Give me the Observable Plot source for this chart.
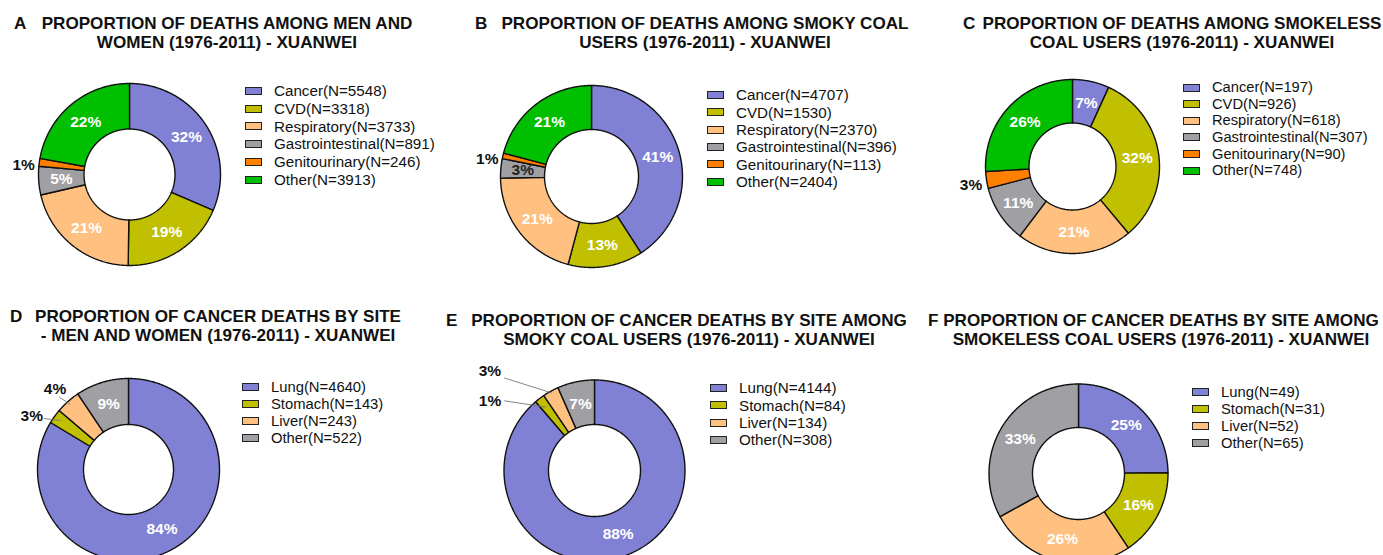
<!DOCTYPE html>
<html>
<head>
<meta charset="utf-8">
<script src="https://cdn.jsdelivr.net/npm/d3@7"></script>
<script src="https://cdn.jsdelivr.net/npm/@observablehq/plot@0.6"></script>
<style>
  html, body { margin: 0; padding: 0; background: #fff; }
  #fig { position: relative; width: 1383px; height: 555px; overflow: hidden; font-family: "Liberation Sans", Arial, Helvetica, sans-serif; color: #111; }
  .t { position: absolute; font-weight: bold; font-size: 17.1px; white-space: nowrap; line-height: 1; }
  .tl { text-align: center; width: 600px; }
  .leg { position: absolute; font-size: 15px; line-height: 1; }
  .row { position: absolute; white-space: nowrap; display: flex; align-items: center; }
  .sw { width: 15px; height: 6px; border: 1.5px solid #222; margin-right: 12px; }
  .panel svg { position: absolute; overflow: visible; }
</style>
</head>
<body>
<div id="fig"></div>
<script>
// ---------- data ----------
const causeCategories = ["Cancer", "CVD", "Respiratory", "Gastrointestinal", "Genitourinary", "Other"];
const causeColors = ["#8080d4", "#c0c000", "#ffc080", "#a0a0a4", "#ff8000", "#00bf00"];
const siteCategories = ["Lung", "Stomach", "Liver", "Other"];
const siteColors = ["#8080d4", "#c0c000", "#ffc080", "#a0a0a4"];

const deathsAll = [5548, 3318, 3733, 891, 246, 3913];
const pctAll = ["32%", "19%", "21%", "5%", "1%", "22%"];
const deathsSmoky = [4707, 1530, 2370, 396, 113, 2404];
const pctSmoky = ["41%", "13%", "21%", "3%", "1%", "21%"];
const deathsSmokeless = [197, 926, 618, 307, 90, 748];
const pctSmokeless = ["7%", "32%", "21%", "11%", "3%", "26%"];

const cancerAll = [4640, 143, 243, 522];
const pctCancerAll = ["84%", "3%", "4%", "9%"];
const cancerSmoky = [4144, 84, 134, 308];
const pctCancerSmoky = ["88%", "1%", "3%", "7%"];
const cancerSmokeless = [49, 31, 52, 65];
const pctCancerSmokeless = ["25%", "16%", "26%", "33%"];

const panelLetters = ["A", "B", "C", "D", "E", "F"];
const titleLines = [
  ["PROPORTION OF DEATHS AMONG MEN AND", "WOMEN (1976-2011) - XUANWEI"],
  ["PROPORTION OF DEATHS AMONG SMOKY COAL", "USERS (1976-2011) - XUANWEI"],
  ["PROPORTION OF DEATHS AMONG SMOKELESS", "COAL USERS (1976-2011) - XUANWEI"],
  ["PROPORTION OF CANCER DEATHS BY SITE", "- MEN AND WOMEN (1976-2011) - XUANWEI"],
  ["PROPORTION OF CANCER DEATHS BY SITE AMONG", "SMOKY COAL USERS (1976-2011) - XUANWEI"],
  ["PROPORTION OF CANCER DEATHS BY SITE AMONG", "SMOKELESS COAL USERS (1976-2011) - XUANWEI"]
];

// ---------- layout (positions / styles only) ----------
const panels = [
  {cats: causeCategories, colors: causeColors, values: deathsAll, pct: pctAll,
   cx: 129, cy: 173.5, R: 91, r: 45.5,
   letterX: 14, titleCx: 227, titleY: 15,
   legX: 245, legY: 91, legStep: 17.7, legFont: 15.2,
   outside: [{i: 4, r: 1.05, dx: 0, dy: 3}], dark: []},
  {cats: causeCategories, colors: causeColors, values: deathsSmoky, pct: pctSmoky,
   cx: 591, cy: 175.5, R: 91, r: 47,
   letterX: 475, titleCx: 705, titleY: 15,
   legX: 707, legY: 95, legStep: 17.3, legFont: 15.2,
   outside: [{i: 4, r: 1.05, dx: 0, dy: 4}], dark: [3]},
  {cats: causeCategories, colors: causeColors, values: deathsSmokeless, pct: pctSmokeless,
   cx: 1072, cy: 165.5, R: 87, r: 43.5,
   letterX: 963, titleCx: 1182, titleY: 15,
   legX: 1183, legY: 87.5, legStep: 16.6, legFont: 14.7,
   outside: [{i: 4, r: 1.05, dx: 0, dy: 4}], dark: []},
  {cats: siteCategories, colors: siteColors, values: cancerAll, pct: pctCancerAll,
   cx: 127.5, cy: 469, R: 91, r: 45,
   letterX: 10, titleCx: 218, titleY: 308,
   legX: 242, legY: 387, legStep: 17, legFont: 14.8,
   outside: [{i: 1, r0: 0.92, da: -4.6, r: 1.085, dx: -1, dy: -2},
             {i: 2, r0: 0.96, da: -2, r: 1.1, dx: 7, dy: -8}], dark: []},
  {cats: siteCategories, colors: siteColors, values: cancerSmoky, pct: pctCancerSmoky,
   cx: 593.5, cy: 469.5, R: 90.5, r: 46,
   letterX: 446, titleCx: 689, titleY: 312,
   legX: 710, legY: 388, legStep: 17.3, legFont: 15.2,
   outside: [{i: 1, r0: 0.88, da: -15, r: 1.26, dx: -3, dy: 0},
             {i: 2, r0: 0.98, da: -15.4, r: 1.43, dx: -3, dy: -7}], dark: []},
  {cats: siteCategories, colors: siteColors, values: cancerSmokeless, pct: pctCancerSmokeless,
   cx: 1077.5, cy: 472.5, R: 89.5, r: 46,
   letterX: 928, titleCx: 1161, titleY: 312,
   legX: 1192, legY: 392, legStep: 17, legFont: 14.8,
   outside: [], dark: []}
];

const fig = document.getElementById("fig");
const FONT = "Liberation Sans, Arial, Helvetica, sans-serif";
const HALF = 130; // half size of each donut svg in px

function polar(a, rr) { return [Math.sin(a) * rr, Math.cos(a) * rr]; }

panels.forEach((p, k) => {
  const wrap = document.createElement("div");
  wrap.className = "panel";
  fig.appendChild(wrap);

  // title
  const letter = document.createElement("div");
  letter.className = "t";
  letter.style.left = p.letterX + "px";
  letter.style.top = p.titleY + "px";
  letter.textContent = panelLetters[k];
  wrap.appendChild(letter);
  titleLines[k].forEach((line, j) => {
    const d = document.createElement("div");
    d.className = "t tl";
    d.style.left = (p.titleCx - 300) + "px";
    d.style.top = (p.titleY + j * 18.5) + "px";
    d.textContent = line;
    wrap.appendChild(d);
  });

  // slices
  const rows = p.cats.map((c, i) => ({cat: c, value: p.values[i], pct: p.pct[i]}));
  const arcs = d3.pie().sort(null).value(d => d.value).startAngle(0).endAngle(2 * Math.PI)(rows);
  const inner = p.r / p.R;
  const poly = [];
  arcs.forEach(a => {
    const n = Math.max(2, Math.ceil((a.endAngle - a.startAngle) / 0.01));
    for (let s = 0; s <= n; s++) {
      const t = a.startAngle + (a.endAngle - a.startAngle) * s / n;
      const [x, y] = polar(t, 1);
      poly.push({cat: a.data.cat, x, y});
    }
    for (let s = n; s >= 0; s--) {
      const t = a.startAngle + (a.endAngle - a.startAngle) * s / n;
      const [x, y] = polar(t, inner);
      poly.push({cat: a.data.cat, x, y});
    }
    const [x0, y0] = polar(a.startAngle, 1);
    poly.push({cat: a.data.cat, x: x0, y: y0});
  });

  const outsideIdx = new Set(p.outside.map(o => o.i));
  const mid = a => (a.startAngle + a.endAngle) / 2;
  const insideLabels = arcs.filter(a => !outsideIdx.has(a.index)).map(a => {
    const [x, y] = polar(mid(a), (1 + inner) / 2);
    return {x, y, text: a.data.pct, dark: p.dark.includes(a.index)};
  });
  const outLabels = [], leaders = [];
  p.outside.forEach(o => {
    const a = arcs[o.i];
    const m = mid(a);
    if (o.r0 !== undefined) {
      const [x1, y1] = polar(m, o.r0);
      const [x2, y2] = polar(m + o.da * Math.PI / 180, o.r);
      leaders.push({x1, y1, x2, y2});
      outLabels.push({x: x2 + o.dx / p.R, y: y2 - o.dy / p.R, text: a.data.pct});
    } else {
      const [x, y] = polar(m, o.r);
      outLabels.push({x: x + o.dx / p.R, y: y - o.dy / p.R, text: a.data.pct});
    }
  });

  const ext = HALF / p.R;
  const chart = Plot.plot({
    width: 2 * HALF, height: 2 * HALF, margin: 0,
    x: {domain: [-ext, ext], axis: null},
    y: {domain: [-ext, ext], axis: null},
    color: {domain: p.cats, range: p.colors},
    style: {background: "transparent", overflow: "visible"},
    marks: [
      Plot.line(poly, {x: "x", y: "y", z: "cat", fill: "cat", stroke: "#111", strokeWidth: 1.4, curve: "linear", strokeLinejoin: "miter"}),
      Plot.link(leaders, {x1: "x1", y1: "y1", x2: "x2", y2: "y2", stroke: "#777", strokeWidth: 0.9}),
      Plot.text(insideLabels.filter(d => !d.dark), {x: "x", y: "y", text: "text", fill: "white", fontWeight: "bold", fontSize: 15.5, fontFamily: FONT}),
      Plot.text(insideLabels.filter(d => d.dark), {x: "x", y: "y", text: "text", fill: "#222", fontWeight: "bold", fontSize: 15.5, fontFamily: FONT}),
      Plot.text(outLabels, {x: "x", y: "y", text: "text", fill: "#111", fontWeight: "bold", fontSize: 15.5, fontFamily: FONT, textAnchor: "end"})
    ]
  });
  chart.style.left = (p.cx - HALF) + "px";
  chart.style.top = (p.cy - HALF) + "px";
  wrap.appendChild(chart);

  // legend
  p.cats.forEach((c, i) => {
    const row = document.createElement("div");
    row.className = "row leg";
    row.style.fontSize = p.legFont + "px";
    row.style.left = p.legX + "px";
    row.style.top = (p.legY + i * p.legStep - 9) + "px";
    row.style.height = "18px";
    const sw = document.createElement("span");
    sw.className = "sw";
    sw.style.background = p.colors[i];
    const tx = document.createElement("span");
    tx.textContent = `${c}(N=${p.values[i]})`;
    row.appendChild(sw);
    row.appendChild(tx);
    wrap.appendChild(row);
  });
});
</script>
</body>
</html>
